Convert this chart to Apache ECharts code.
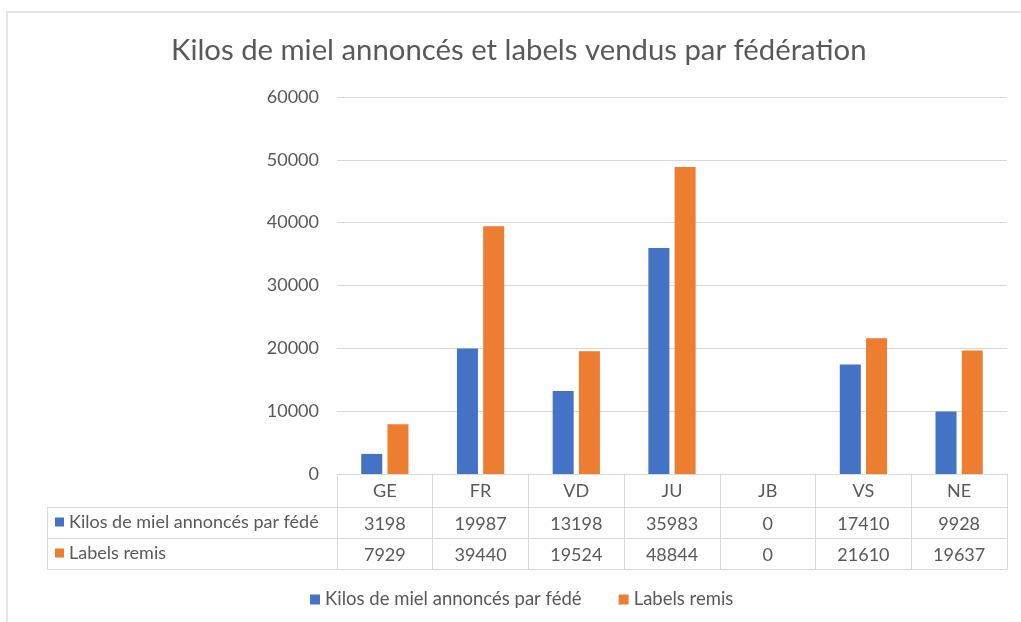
<!DOCTYPE html>
<html>
<head>
<meta charset="utf-8">
<script src="https://cdn.jsdelivr.net/npm/echarts@6/dist/echarts.min.js"></script>
<style>html,body{margin:0;padding:0;background:#fff;}#c{width:1021px;height:622px;}</style>
</head>
<body>
<div id="c"></div>
<script>
const title = 'Kilos de miel annoncés et labels vendus par fédération';
const categories = ['GE', 'FR', 'VD', 'JU', 'JB', 'VS', 'NE'];
const seriesNames = ['Kilos de miel annoncés par fédé', 'Labels remis'];
const kilos = [3198, 19987, 13198, 35983, 0, 17410, 9928];
const labels = [7929, 39440, 19524, 48844, 0, 21610, 19637];
const yTicks = [0, 10000, 20000, 30000, 40000, 50000, 60000];

const FONT = 'Lato';
const TXT = '#595959';
const LINE = '#d9d9d9';
const colors = ['#4472C4', '#ED7D31'];

const chart = echarts.init(document.getElementById('c'));
const baseX = {
  type: 'category', data: categories, position: 'bottom', gridIndex: 0,
  axisLine: { show: true, lineStyle: { color: LINE, width: 1 } },
  axisTick: { show: false }, splitLine: { show: false }
};
chart.setOption({
  animation: false,
  color: colors,
  textStyle: { fontFamily: FONT, color: TXT },
  title: {
    text: title, left: 171, top: 36, padding: 0,
    textStyle: { fontFamily: FONT, fontSize: 29.3, fontWeight: 'normal', color: TXT }
  },
  grid: { left: 337, right: 14, top: 97, bottom: 148, containLabel: false },
  legend: [{
    data: seriesNames, left: 310, top: 590, icon: 'rect', itemWidth: 10, itemHeight: 10,
    itemGap: 37, selectedMode: false, padding: 0,
    textStyle: { fontFamily: FONT, fontSize: 18.5, color: TXT }
  }, {
    data: seriesNames, orient: 'vertical', left: 55, top: 513, icon: 'rect', itemWidth: 9, itemHeight: 9,
    itemGap: 13, selectedMode: false, padding: 0,
    textStyle: { fontFamily: FONT, fontSize: 18, color: TXT, lineHeight: 18 }
  }],
  xAxis: [
    Object.assign({}, baseX, {
      axisTick: { show: true, interval: 0, length: 95, lineStyle: { color: LINE } },
      axisLabel: { fontFamily: FONT, fontSize: 18, color: TXT, margin: 8, interval: 0 }
    }),
    Object.assign({}, baseX, {
      offset: 33,
      axisLabel: { fontFamily: FONT, fontSize: 18, color: TXT, margin: 8, interval: 0,
        formatter: (v, i) => String(kilos[i]) }
    }),
    Object.assign({}, baseX, {
      offset: 64,
      axisLabel: { fontFamily: FONT, fontSize: 18, color: TXT, margin: 8, interval: 0,
        formatter: (v, i) => String(labels[i]) }
    }),
    Object.assign({}, baseX, {
      offset: 95, axisLabel: { show: false }
    })
  ],
  yAxis: {
    type: 'value', min: yTicks[0], max: yTicks[yTicks.length - 1], interval: yTicks[1] - yTicks[0],
    axisLine: { show: false }, axisTick: { show: false },
    axisLabel: { fontFamily: FONT, fontSize: 18, color: TXT, margin: 18, formatter: v => String(v) },
    splitLine: { lineStyle: { color: LINE, width: 1 } }
  },
  graphic: [
    { type: 'rect', shape: { x: 7, y: 12, width: 1100, height: 700 }, style: { fill: null, stroke: '#e6e6e6', lineWidth: 2 }, silent: true },
    { type: 'line', shape: { x1: 47, y1: 507.5, x2: 337, y2: 507.5 }, style: { stroke: LINE, lineWidth: 1 } },
    { type: 'line', shape: { x1: 47, y1: 538.5, x2: 337, y2: 538.5 }, style: { stroke: LINE, lineWidth: 1 } },
    { type: 'line', shape: { x1: 47, y1: 569.5, x2: 337, y2: 569.5 }, style: { stroke: LINE, lineWidth: 1 } },
    { type: 'line', shape: { x1: 47.5, y1: 507, x2: 47.5, y2: 570 }, style: { stroke: LINE, lineWidth: 1 } }
  ],
  series: [
    { name: seriesNames[0], type: 'bar', data: kilos, barWidth: 21, barGap: '25%', xAxisIndex: 0 },
    { name: seriesNames[1], type: 'bar', data: labels, barWidth: 21, barGap: '25%', xAxisIndex: 0 }
  ]
});
</script>
</body>
</html>
